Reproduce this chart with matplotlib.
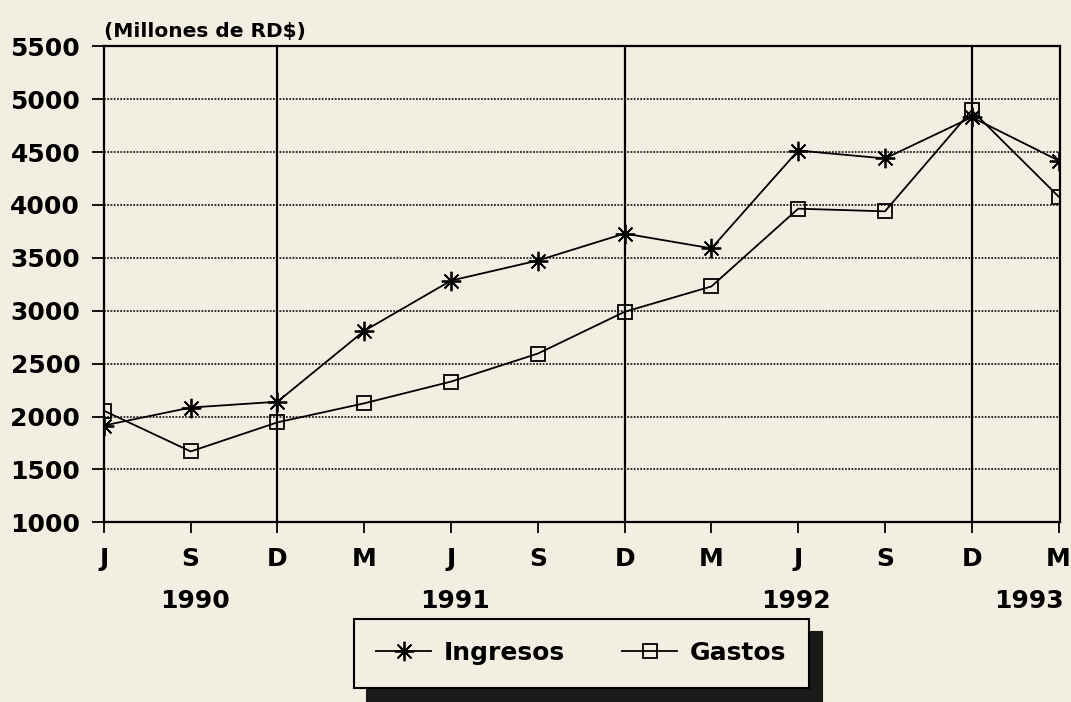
import numpy as np
import matplotlib.pyplot as plt

months = ['J', 'S', 'D', 'M', 'J', 'S', 'D', 'M', 'J', 'S', 'D', 'M']
years = ['1990', '1991', '1992', '1993']
year_pos = [1.05, 4.05, 7.97, 10.66]
dec_pos = [2, 6, 10]
ingresos = [1915, 2085, 2140, 2810, 3285, 3475, 3730, 3590, 4515, 4440, 4830, 4420]
gastos = [2055, 1670, 1945, 2125, 2330, 2595, 2990, 3230, 3965, 3940, 4895, 4080]

bg = '#f2eee2'
plt.rcParams['font.family'] = ['DejaVu Sans']
plt.rcParams['font.weight'] = 'bold'

fig = plt.figure(figsize=(10.71, 7.02), dpi=100, facecolor=bg)
ax = fig.add_axes([0.097, 0.256, 0.893, 0.678], facecolor=bg)

x = np.arange(len(months))
ax.plot(x, ingresos, color='k', lw=1.3, marker=(8, 2, 0), ms=14, mew=1.3,
        label='Ingresos', zorder=4)
ax.plot(x, gastos, color='k', lw=1.3, marker='s', ms=10, mew=1.3,
        mfc='none', label='Gastos', zorder=4)

for d in dec_pos:
    ax.axvline(d, color='k', lw=1.6, zorder=2)
for yv in range(1500, 5500, 500):
    ax.axhline(yv, color='#222', lw=1.3, ls=(0, (1, 0.8)), zorder=1)

ax.set_xlim(0, 11.02)
ax.set_ylim(1000, 5500)
ax.set_yticks(range(1000, 5501, 500))
ax.set_xticks(x)
ax.set_xticklabels(months)
ax.tick_params(axis='y', direction='out', length=9, width=1.3, pad=8, labelsize=18)
ax.tick_params(axis='x', direction='out', length=8, width=1.3, pad=10, labelsize=18)
for s in ax.spines.values():
    s.set_linewidth(1.6)

for yr, p in zip(years, year_pos):
    ax.text(p, -0.165, yr, transform=ax.get_xaxis_transform(), ha='center',
            va='center', fontsize=18, fontweight='bold')

fig.text(0.097, 0.955, '(Millones de RD$)', fontsize=14.5, fontweight='bold',
         ha='left', va='center')

leg = ax.legend(loc='center', bbox_to_anchor=(581 / 1071, 1 - 653 / 702),
                bbox_transform=fig.transFigure, ncol=2, fontsize=18,
                frameon=True, fancybox=False, handlelength=2.2,
                columnspacing=2.3, borderpad=0.9, handletextpad=0.5,
                shadow={'ox': 10, 'oy': -10, 'color': '#1c1a18', 'alpha': 1})
leg.get_frame().set_edgecolor('k')
leg.get_frame().set_linewidth(1.5)
leg.get_frame().set_facecolor(bg)
leg.get_frame().set_alpha(1)

fig.savefig('out.png', dpi=100, facecolor=bg)
